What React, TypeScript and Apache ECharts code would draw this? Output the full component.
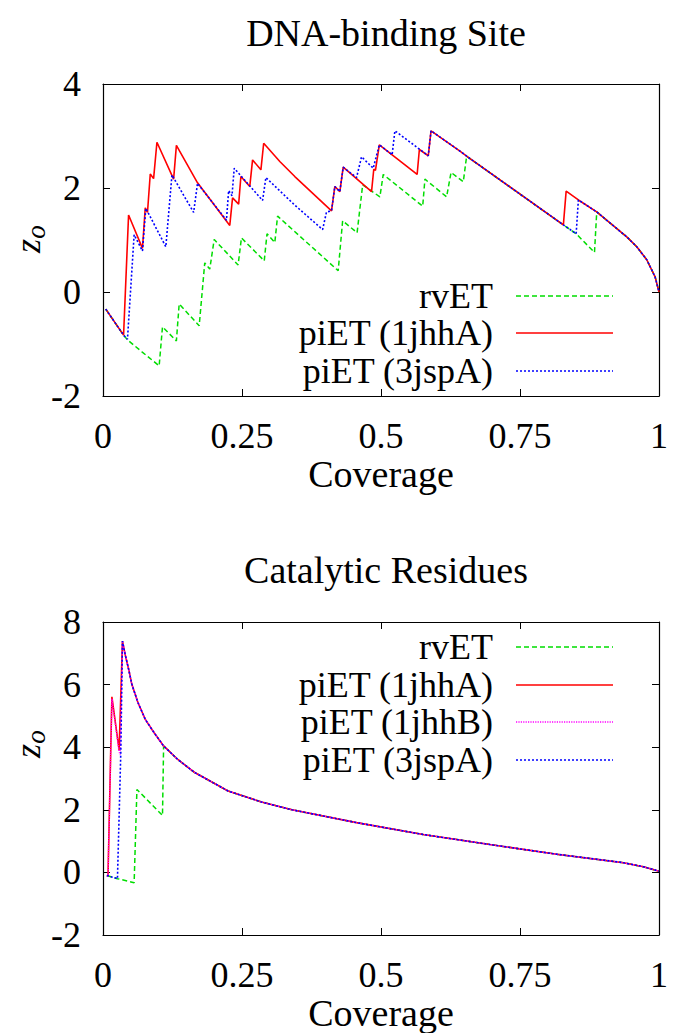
import React, { useEffect, useRef } from "react";
import * as echarts from "echarts";

// ---------------- Data: top panel (DNA-binding Site) ----------------
const topRvEtX = [0.005, 0.037, 0.044, 0.070, 0.101, 0.107, 0.132, 0.137, 0.173, 0.183, 0.192, 0.200, 0.243, 0.249, 0.290, 0.295, 0.309, 0.314, 0.318, 0.423, 0.431, 0.457, 0.467, 0.498, 0.504, 0.575, 0.579, 0.618, 0.626, 0.648, 0.654, 0.828, 0.851, 0.884, 0.888, 0.942, 0.960, 0.978, 0.993, 1.000];
const topRvEtY = [-0.33, -0.83, -0.92, -1.15, -1.42, -0.67, -0.94, -0.23, -0.65, 0.56, 0.44, 1.01, 0.52, 1.04, 0.60, 1.12, 0.95, 1.46, 1.42, 0.41, 1.37, 1.14, 2.06, 1.83, 2.26, 1.65, 2.17, 1.83, 2.30, 2.12, 2.61, 1.29, 1.12, 0.76, 1.54, 1.06, 0.87, 0.62, 0.29, 0.00];

const top1jhhAX = [0.005, 0.037, 0.046, 0.071, 0.076, 0.080, 0.085, 0.091, 0.097, 0.127, 0.132, 0.170, 0.228, 0.233, 0.244, 0.248, 0.264, 0.269, 0.284, 0.289, 0.318, 0.345, 0.411, 0.417, 0.426, 0.432, 0.483, 0.487, 0.490, 0.497, 0.565, 0.569, 0.585, 0.590, 0.642, 0.657, 0.828, 0.833, 0.855, 0.888, 0.942, 0.960, 0.978, 0.993, 1.000];
const top1jhhAY = [-0.33, -0.83, 1.48, 0.84, 1.62, 1.53, 2.27, 2.18, 2.88, 2.17, 2.82, 2.10, 1.28, 1.81, 1.69, 2.22, 2.03, 2.54, 2.35, 2.86, 2.51, 2.22, 1.56, 2.03, 1.93, 2.40, 1.93, 2.36, 2.34, 2.83, 2.26, 2.74, 2.62, 3.10, 2.71, 2.59, 1.29, 1.94, 1.77, 1.54, 1.06, 0.87, 0.62, 0.29, 0.00];

const top3jspAX = [0.005, 0.037, 0.044, 0.056, 0.071, 0.077, 0.113, 0.124, 0.163, 0.170, 0.222, 0.226, 0.232, 0.236, 0.287, 0.293, 0.345, 0.395, 0.402, 0.411, 0.417, 0.426, 0.432, 0.456, 0.465, 0.486, 0.497, 0.520, 0.525, 0.585, 0.590, 0.642, 0.657, 0.828, 0.851, 0.855, 0.888, 0.942, 0.960, 0.978, 0.993, 1.000];
const top3jspAY = [-0.33, -0.83, -0.91, 1.10, 0.79, 1.61, 0.87, 2.25, 1.53, 2.09, 1.38, 1.95, 1.85, 2.38, 1.76, 2.20, 1.67, 1.20, 1.54, 1.56, 2.03, 1.93, 2.40, 2.20, 2.60, 2.38, 2.83, 2.64, 3.10, 2.62, 3.10, 2.71, 2.59, 1.29, 1.12, 1.77, 1.54, 1.06, 0.87, 0.62, 0.29, 0.00];

// ---------------- Data: bottom panel (Catalytic Residues) ----------------
const botCurveX = [0.035, 0.040, 0.046, 0.052, 0.063, 0.076, 0.092, 0.109, 0.135, 0.165, 0.225, 0.285, 0.340, 0.456, 0.576, 0.696, 0.816, 0.936, 0.972, 1.000];
const botCurveY = [7.39, 6.95, 6.50, 6.00, 5.42, 4.89, 4.46, 4.04, 3.60, 3.19, 2.60, 2.25, 2.00, 1.59, 1.21, 0.89, 0.58, 0.31, 0.18, 0.04];

const botRvEtHeadX = [0.007, 0.026, 0.056, 0.061, 0.107];
const botRvEtHeadY = [-0.10, -0.20, -0.33, 2.65, 1.82];
const botRvEtJoinX = 0.109;
const bot1jhhAHeadX = [0.007, 0.009, 0.016, 0.029];
const bot1jhhAHeadY = [-0.10, -0.12, 5.61, 3.91];
const bot1jhhBHeadX = [0.007, 0.009, 0.016, 0.029, 0.031];
const bot1jhhBHeadY = [-0.10, -0.12, 5.55, 3.85, 3.75];
const bot3jspAHeadX = [0.007, 0.026, 0.032];
const bot3jspAHeadY = [-0.10, -0.20, 3.82];

// ---------------- Axes ----------------
const xTicks = [0, 0.25, 0.5, 0.75, 1];
const topYRange = [-2, 4];
const botYRange = [-2, 8];

const titles = ["DNA-binding Site", "Catalytic Residues"];
const xName = "Coverage";

const FONT = "Liberation Serif";
const STYLES: Record<string, { color: string; type: any; width: number }> = {
  rvET: { color: "#00dd00", type: [5, 3], width: 1.5 },
  "piET (1jhhA)": { color: "#ff0000", type: "solid", width: 1.6 },
  "piET (1jhhB)": { color: "#ff00ff", type: [1.2, 1.2], width: 1.4 },
  "piET (3jspA)": { color: "#0000ff", type: [2, 2], width: 1.6 },
};

const zip = (xs: number[], ys: number[]) => xs.map((x, i) => [x, ys[i]]);

const GRID_LEFT = 103;
const GRID_W = 556;
const grids = [
  { left: GRID_LEFT, top: 84, width: GRID_W, height: 312 },
  { left: GRID_LEFT, top: 622, width: GRID_W, height: 313 },
];

function xAxisPair(gridIndex: number) {
  const base = {
    type: "value",
    gridIndex,
    min: xTicks[0],
    max: xTicks[xTicks.length - 1],
    interval: 0.25,
    axisLine: { show: true, onZero: false, lineStyle: { color: "#000", width: 1.2 } },
    axisTick: { show: true, inside: true, length: 7, lineStyle: { color: "#000", width: 1 } },
    splitLine: { show: false },
  };
  return [
    {
      ...base,
      position: "bottom",
      axisLabel: { show: true, margin: 22, fontSize: 36, fontFamily: FONT, color: "#000" },
      name: xName,
      nameLocation: "middle",
      nameGap: 57,
      nameTextStyle: { fontSize: 38, fontFamily: FONT, color: "#000" },
    },
    { ...base, position: "top", axisLabel: { show: false } },
  ];
}

function yAxisPair(gridIndex: number, range: number[]) {
  const base = {
    type: "value",
    gridIndex,
    min: range[0],
    max: range[1],
    interval: 2,
    axisLine: { show: true, onZero: false, lineStyle: { color: "#000", width: 1.2 } },
    axisTick: { show: true, inside: true, length: 7, lineStyle: { color: "#000", width: 1 } },
    splitLine: { show: false },
  };
  return [
    {
      ...base,
      position: "left",
      axisLabel: { show: true, margin: 22, fontSize: 36, fontFamily: FONT, color: "#000" },
    },
    { ...base, position: "right", axisLabel: { show: false } },
  ];
}

function lineSeries(name: string, data: number[][], axisIdx: number) {
  const s = STYLES[name];
  return {
    type: "line",
    name,
    data,
    xAxisIndex: axisIdx,
    yAxisIndex: axisIdx,
    showSymbol: false,
    symbol: "none",
    silent: true,
    clip: true,
    lineStyle: { color: s.color, width: s.width, type: s.type },
  };
}

function legendGraphics(names: string[], rowYs: number[]) {
  const out: any[] = [];
  names.forEach((n, i) => {
    const s = STYLES[n];
    out.push({
      type: "text",
      x: 493,
      y: rowYs[i],
      silent: true,
      style: {
        text: n,
        fontSize: 36,
        fontFamily: FONT,
        fill: "#000",
        textAlign: "right",
        textVerticalAlign: "middle",
      },
    });
    out.push({
      type: "line",
      silent: true,
      shape: { x1: 516, y1: rowYs[i], x2: 613, y2: rowYs[i] },
      style: { stroke: s.color, lineWidth: s.width, lineDash: Array.isArray(s.type) ? s.type : null },
    });
  });
  return out;
}

function yLabel(cy: number) {
  return {
    type: "group",
    x: 28,
    y: cy,
    rotation: Math.PI / 2,
    silent: true,
    children: [
      {
        type: "text",
        x: -6,
        y: 0,
        style: {
          text: "z",
          font: "italic 36px Liberation Serif",
          fill: "#000",
          textAlign: "center",
          textVerticalAlign: "middle",
        },
      },
      {
        type: "text",
        x: 8,
        y: 8,
        style: {
          text: "o",
          font: "italic 27px Liberation Serif",
          fill: "#000",
          textAlign: "center",
          textVerticalAlign: "middle",
        },
      },
    ],
  };
}

export default function App() {
  const ref = useRef<HTMLDivElement>(null);
  useEffect(() => {
    document.body.style.margin = "0";
    if (!ref.current) return;
    const chart = echarts.init(ref.current, undefined, { renderer: "svg" });
    const [tx0, tx1] = xAxisPair(0);
    const [bx0, bx1] = xAxisPair(1);
    const [ty0, ty1] = yAxisPair(0, topYRange);
    const [by0, by1] = yAxisPair(1, botYRange);

    const botCurve = zip(botCurveX, botCurveY);
    const joinIdx = botCurveX.indexOf(botRvEtJoinX);
    const titleStyle = { fontSize: 38, fontWeight: "normal", fontFamily: FONT, color: "#000" };
    const option: any = {
      animation: false,
      backgroundColor: "#fff",
      title: [
        { text: titles[0], left: GRID_LEFT + GRID_W / 2, top: 9, textAlign: "center", textStyle: titleStyle },
        { text: titles[1], left: GRID_LEFT + GRID_W / 2, top: 546, textAlign: "center", textStyle: titleStyle },
      ],
      grid: grids,
      xAxis: [tx0, tx1, bx0, bx1],
      yAxis: [ty0, ty1, by0, by1],
      series: [
        lineSeries("rvET", zip(topRvEtX, topRvEtY), 0),
        lineSeries("piET (1jhhA)", zip(top1jhhAX, top1jhhAY), 0),
        lineSeries("piET (3jspA)", zip(top3jspAX, top3jspAY), 0),
        lineSeries("rvET", zip(botRvEtHeadX, botRvEtHeadY).concat(botCurve.slice(joinIdx)), 2),
        lineSeries("piET (1jhhA)", zip(bot1jhhAHeadX, bot1jhhAHeadY).concat(botCurve), 2),
        lineSeries("piET (1jhhB)", zip(bot1jhhBHeadX, bot1jhhBHeadY).concat(botCurve), 2),
        lineSeries("piET (3jspA)", zip(bot3jspAHeadX, bot3jspAHeadY).concat(botCurve), 2),
      ],
      graphic: [
        ...legendGraphics(["rvET", "piET (1jhhA)", "piET (3jspA)"], [296, 333, 371]),
        ...legendGraphics(["rvET", "piET (1jhhA)", "piET (1jhhB)", "piET (3jspA)"], [647, 685, 722, 760]),
        yLabel(240),
        yLabel(745),
      ],
    };
    chart.setOption(option);
    return () => chart.dispose();
  }, []);
  return <div ref={ref} style={{ width: 674, height: 1033 }} />;
}
